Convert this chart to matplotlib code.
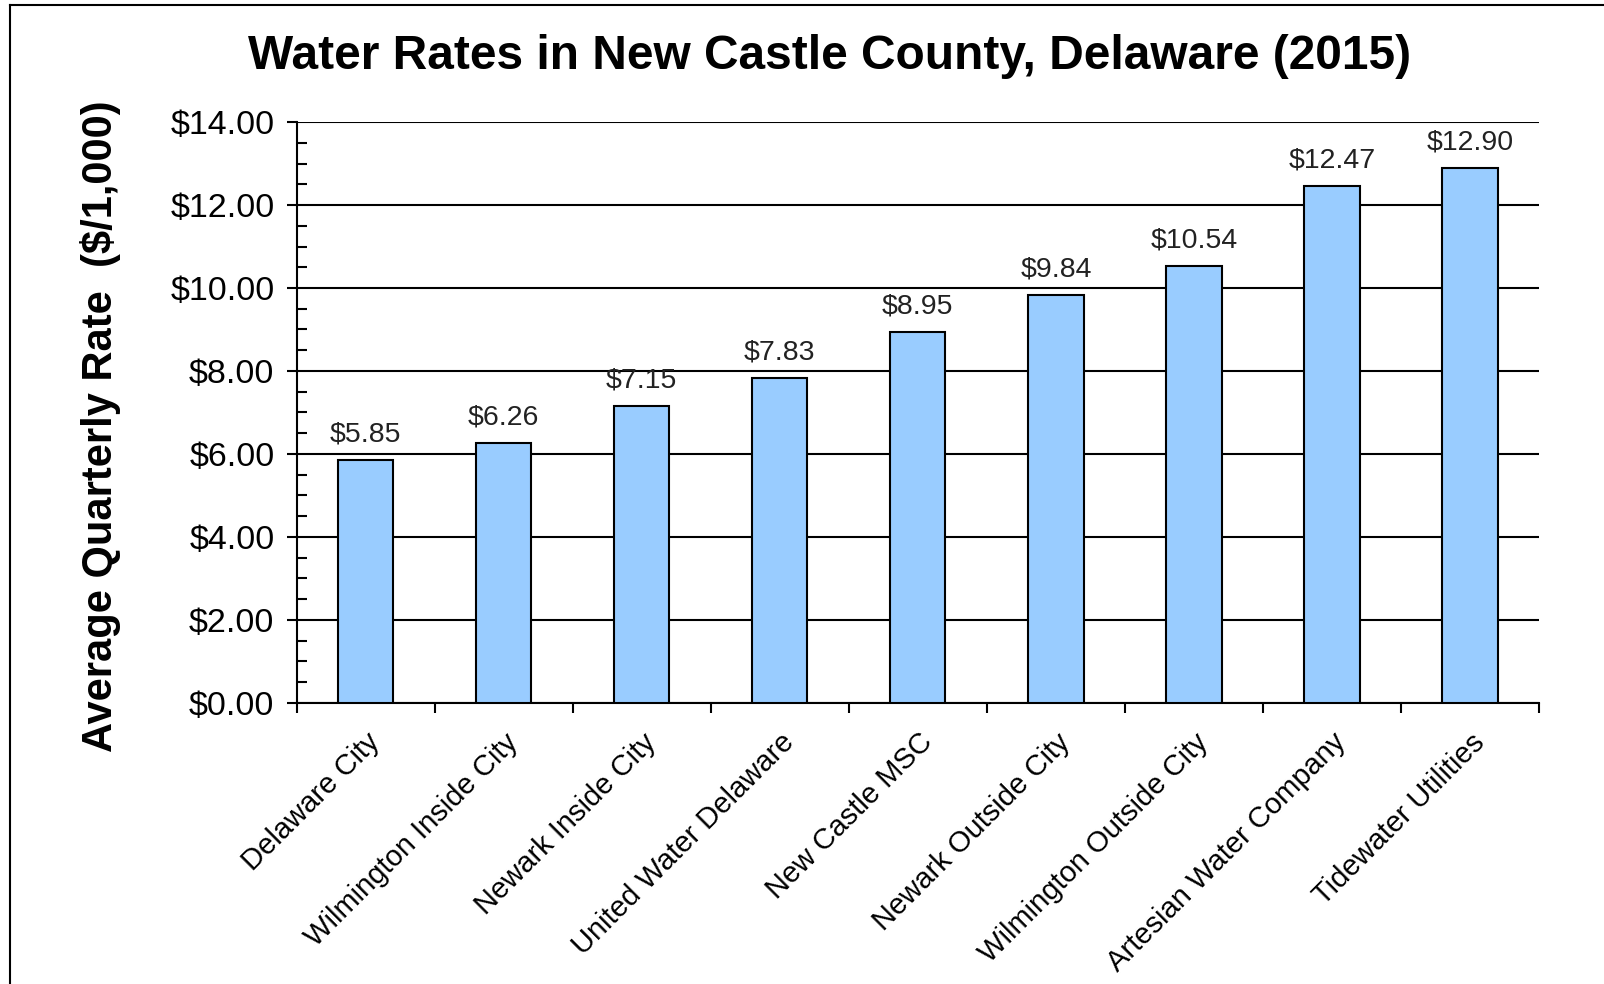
import matplotlib.pyplot as plt
from matplotlib.ticker import FixedLocator, MultipleLocator
from matplotlib.lines import Line2D

plt.rcParams['font.family'] = ['Liberation Sans', 'DejaVu Sans']

# Data
utilities = ['Delaware City', 'Wilmington Inside City', 'Newark Inside City',
             'United Water Delaware', 'New Castle MSC', 'Newark Outside City',
             'Wilmington Outside City', 'Artesian Water Company', 'Tidewater Utilities']
rates = [5.85, 6.26, 7.15, 7.83, 8.95, 9.84, 10.54, 12.47, 12.90]
y_ticks = [0, 2, 4, 6, 8, 10, 12, 14]

fig = plt.figure(figsize=(16.04, 9.84), dpi=100)
ax = fig.add_axes([0.185, 0.2856, 0.7745, 0.5904])

x = list(range(len(utilities)))
ax.bar(x, rates, width=0.4, color='#99CCFF', edgecolor='black', linewidth=1.5, zorder=3)

for xi, r in zip(x, rates):
    ax.annotate(f'${r:.2f}', (xi, r), xytext=(0, 9), textcoords='offset points',
                ha='center', va='bottom', fontsize=20.5, color='#222222')

# Axes and ticks
ax.set_xlim(-0.5, len(utilities) - 0.5)
ax.set_ylim(0, 14)
ax.set_yticks(y_ticks)
ax.set_yticklabels([f'${v:.2f}' for v in y_ticks], fontsize=24.5)
ax.yaxis.set_minor_locator(MultipleLocator(0.5))
ax.tick_params(axis='y', which='major', direction='out', length=7, width=1.5, pad=9)
ax.tick_params(axis='y', which='minor', direction='in', length=7, width=1.5)

ax.xaxis.set_major_locator(FixedLocator([i - 0.5 for i in range(len(utilities) + 1)]))
ax.xaxis.set_minor_locator(FixedLocator(x))
ax.set_xticklabels([], minor=False)
ax.set_xticklabels(utilities, minor=True, rotation=45, ha='right',
                   rotation_mode='anchor', fontsize=21)
ax.tick_params(axis='x', which='major', direction='out', length=7, width=1.5)
ax.tick_params(axis='x', which='minor', length=0, pad=18)

ax.grid(axis='y', which='major', color='black', linewidth=1.5, zorder=0)
ax.set_axisbelow(True)
for side in ['top', 'right']:
    ax.spines[side].set_visible(False)
for side in ['left', 'bottom']:
    ax.spines[side].set_linewidth(1.5)

ax.set_ylabel('Average Quarterly Rate  ($/1,000)', fontsize=30, fontweight='bold')
ax.yaxis.set_label_coords(-0.1417, 0.477)
fig.text(0.517, 0.943, 'Water Rates in New Castle County, Delaware (2015)',
         ha='center', va='center', fontsize=34.5, fontweight='bold')

# Outer frame (left and top edges visible)
fig.add_artist(Line2D([0.0065, 0.0065], [0, 0.995], transform=fig.transFigure, color='black', lw=1.5))
fig.add_artist(Line2D([0.0065, 1], [0.995, 0.995], transform=fig.transFigure, color='black', lw=1.5))

fig.savefig('out.png', dpi=100)
